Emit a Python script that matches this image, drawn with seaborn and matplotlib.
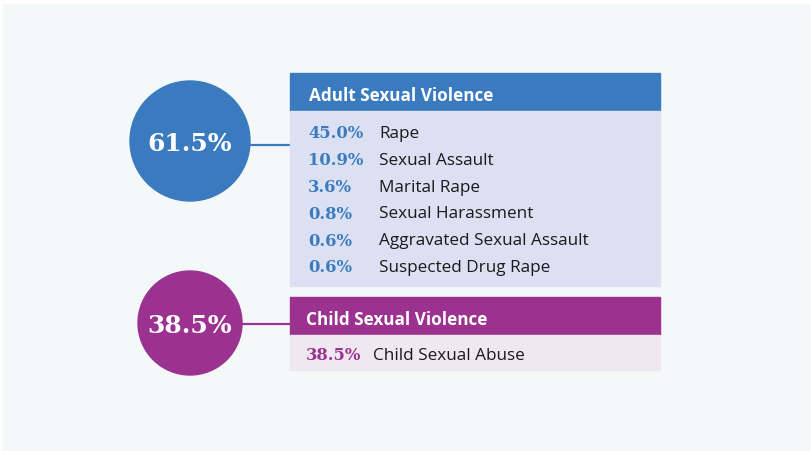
import matplotlib
matplotlib.use("Agg")
import matplotlib.pyplot as plt
import seaborn as sns
from matplotlib.patches import Circle, Rectangle

# Data
groups = ["Adult Sexual Violence", "Child Sexual Violence"]
group_totals = ["61.5%", "38.5%"]
adult_pcts = ["45.0%", "10.9%", "3.6%", "0.8%", "0.6%", "0.6%"]
adult_labels = ["Rape", "Sexual Assault", "Marital Rape", "Sexual Harassment",
                "Aggravated Sexual Assault", "Suspected Drug Rape"]
child_pcts = ["38.5%"]
child_labels = ["Child Sexual Abuse"]

# Styles
main_colors = ["#3A7BBF", "#9B3290"]
body_colors = ["#DCE0F3", "#EFE8F0"]
bg_color = "#F4F8F9"

sns.set_theme(style="white")
plt.rcParams["font.family"] = ["Open Sans", "DejaVu Sans"]

fig = plt.figure(figsize=(8.12, 4.52), dpi=100)
ax = fig.add_axes([0, 0, 1, 1])
ax.set_xlim(0, 812)
ax.set_ylim(452, 0)
ax.axis("off")

ax.add_patch(Rectangle((3, 5), 809, 447, color=bg_color, zorder=0))

# layout per group (pixel coords)
layout = [
    dict(cy=142, r=60, ly=146, ht=74, hb=112, bb=287, row0=134, px=308, lx=379, tx=309),
    dict(cy=324, r=52, ly=325, ht=298, hb=336, bb=371, row0=356, px=306, lx=373, tx=306),
]
items = [(adult_pcts, adult_labels), (child_pcts, child_labels)]

box_x0, box_x1 = 290, 660
cx = 190
row_step = 26.8

for i, name in enumerate(groups):
    L = layout[i]
    col = main_colors[i]
    ax.plot([cx + L["r"] - 2, box_x0], [L["ly"], L["ly"]], color=col, lw=1.6, zorder=1)
    ax.add_patch(Circle((cx, L["cy"]), L["r"], color=col, zorder=2))
    ax.text(cx, L["cy"] + 2, group_totals[i], color="white", fontsize=18,
            fontweight="bold", family="DejaVu Serif", ha="center", va="center", zorder=3)

    ax.add_patch(Rectangle((box_x0, L["ht"]), box_x1 - box_x0, L["hb"] - L["ht"],
                           color=col, zorder=2))
    ax.add_patch(Rectangle((box_x0, L["hb"]), box_x1 - box_x0, L["bb"] - L["hb"],
                           color=body_colors[i], zorder=2))
    ax.text(L["tx"], (L["ht"] + L["hb"]) / 2 + 3, name, color="white", fontsize=12.3,
            fontweight="bold", ha="left", va="center", zorder=3)

    pcts, labels = items[i]
    for j, (p, lab) in enumerate(zip(pcts, labels)):
        y = L["row0"] + j * row_step
        ax.text(L["px"], y, p, color=col, fontsize=11.8, fontweight="bold",
                family="DejaVu Serif", ha="left", va="center", zorder=3)
        ax.text(L["lx"], y, lab, color="#1A1A1A", fontsize=12.3,
                ha="left", va="center", zorder=3)

fig.savefig("out.png", dpi=100, facecolor="white")
